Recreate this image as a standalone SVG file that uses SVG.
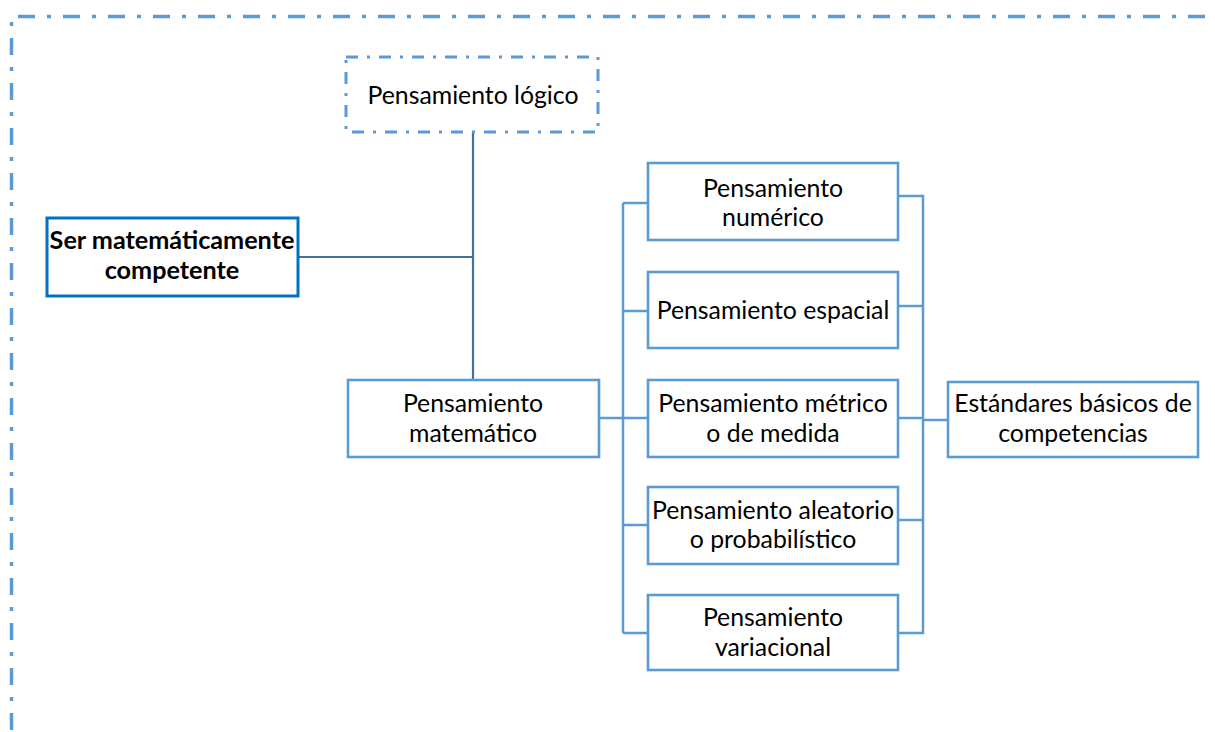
<svg xmlns="http://www.w3.org/2000/svg" width="1215" height="732" viewBox="0 0 1215 732">
<style>
.box{fill:#fff;stroke:#5B9BD5;stroke-width:2.6}
.t{font-family:Lato,"Liberation Sans",sans-serif;font-size:24.8px;fill:#000;text-anchor:middle}
.b{font-weight:bold;font-size:25.2px}
.c{fill:none;stroke:#5B9BD5;stroke-width:2.5}
.c2{fill:none;stroke:#41719C;stroke-width:2.2}
</style>
<rect width="1215" height="732" fill="#fff"/>
<g id="frame">
<path d="M11.5,732 V16.5 H1215" fill="none" stroke="#5B9BD5" stroke-width="3.5" stroke-dasharray="17 12 4 12" stroke-dashoffset="-2"/>
</g>
<g id="connectors">
<path class="c2" d="M473,132 V380 M298,257 H473"/>
<path class="c" d="M599,418 H648 M623,203 V633 M623,203 H648 M623,311 H648 M623,525 H648 M623,633 H648"/>
<path class="c" d="M898,196 H923 V633 H898 M898,306 H923 M898,418 H923 M898,520 H923 M923,420 H948"/>
</g>
<g id="logico">
<rect x="346" y="57" width="252" height="75" fill="#fff" stroke="#5B9BD5" stroke-width="3" stroke-dasharray="12 9 3 9"/>
<text class="t" x="473" y="104">Pensamiento lógico</text>
</g>
<g id="ser">
<rect x="47" y="218" width="251" height="78" fill="#fff" stroke="#0070C0" stroke-width="3"/>
<text class="t b" x="172" y="249">Ser matemáticamente</text>
<text class="t b" x="172" y="279">competente</text>
</g>
<g id="matematico">
<rect class="box" x="348" y="380" width="251" height="77"/>
<text class="t" x="473" y="412">Pensamiento</text>
<text class="t" x="473" y="442">matemático</text>
</g>
<g id="numerico">
<rect class="box" x="648" y="163" width="250" height="77"/>
<text class="t" x="773" y="197">Pensamiento</text>
<text class="t" x="773" y="226">numérico</text>
</g>
<g id="espacial">
<rect class="box" x="648" y="272" width="250" height="76"/>
<text class="t" x="773" y="319">Pensamiento espacial</text>
</g>
<g id="metrico">
<rect class="box" x="648" y="380" width="250" height="77"/>
<text class="t" x="773" y="412">Pensamiento métrico</text>
<text class="t" x="773" y="442">o de medida</text>
</g>
<g id="aleatorio">
<rect class="box" x="648" y="487" width="250" height="77"/>
<text class="t" x="773" y="519">Pensamiento aleatorio</text>
<text class="t" x="773" y="548">o probabilístico</text>
</g>
<g id="variacional">
<rect class="box" x="648" y="595" width="250" height="75"/>
<text class="t" x="773" y="626">Pensamiento</text>
<text class="t" x="773" y="656">variacional</text>
</g>
<g id="estandares">
<rect class="box" x="948" y="382" width="250" height="75"/>
<text class="t" x="1073" y="412">Estándares básicos de</text>
<text class="t" x="1073" y="442">competencias</text>
</g>
</svg>
